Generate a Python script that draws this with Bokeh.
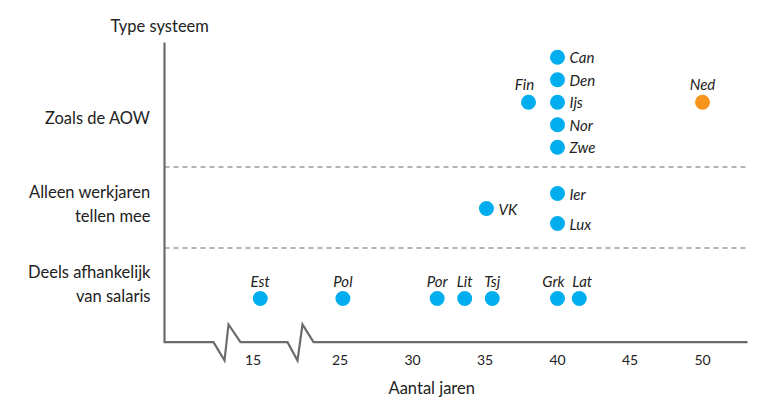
from bokeh.plotting import figure
from bokeh.models import Range1d, FixedTicker, Title, ColumnDataSource
from bokeh.core.properties import value
from bokeh.embed import file_html
from bokeh.resources import INLINE

# ---------------- data ----------------
countries = ["Can", "Den", "Ijs", "Nor", "Zwe", "Fin", "Ned",
             "Ier", "Lux", "VK",
             "Est", "Pol", "Por", "Lit", "Tsj", "Grk", "Lat"]
years = [40, 40, 40, 40, 40, 38, 50,
         40, 40, 35.1,
         15.5, 25.2, 31.7, 33.6, 35.5, 40, 41.5]
system = [0, 0, 0, 0, 0, 0, 0,
          1, 1, 1,
          2, 2, 2, 2, 2, 2, 2]
categories = ["Zoals de AOW", "Alleen werkjaren\ntellen mee", "Deels afhankelijk\nvan salaris"]
highlight = ["Ned"]
x_ticks = [15, 25, 30, 35, 40, 45, 50]

# ---------------- layout / style ----------------
FONT = "Lato"
TXT = "#222222"
BLUE = "#00AEEF"
ORANGE = "#F7941D"
AXIS_C = "#6b6b6b"

PX_PER_YEAR = 14.5
REF_YEAR, REF_PX = 30, 412          # page pixel of year 30
BREAK_AT, BREAK_SHIFT = 20, 4       # values below 20 are shifted right on the broken axis

def to_axis(v):
    return v + BREAK_SHIFT if v < BREAK_AT else v

def px_to_axis(px):
    return REF_YEAR + (px - REF_PX) / PX_PER_YEAR

FRAME_L, FRAME_R, FRAME_T, FRAME_B = 158, 752, 38, 363
GROUP_CENTER = [101.7, 208, 298]
GROUP_STEP = [22.5, 30, 0]
CAT_LABEL_Y = [117, 203, 283]
DIVIDERS = [166.5, 247.5]
AXIS_Y = 341.7
AXIS_X0, AXIS_X1 = px_to_axis(164), px_to_axis(747)
ZIG_LO, ZIG_HI = 360, 324
ZIGS = [(213, 224, 228, 240), (287, 297, 302, 313)]
LABEL_NUDGE = {"Fin": -4, "Grk": -4, "Lat": 3}   # horizontal px nudges of labels above dots

# stacked y positions within each system group
xpos = [to_axis(v) for v in years]
ypos = []
for i, (v, g) in enumerate(zip(years, system)):
    same = [j for j in range(len(years)) if years[j] == v and system[j] == g]
    k = same.index(i)
    n = len(same)
    ypos.append(GROUP_CENTER[g] + (k - (n - 1) / 2) * GROUP_STEP[g])
colors = [ORANGE if c in highlight else BLUE for c in countries]
above = [(g == 2) or (c in ("Fin", "Ned")) for c, g in zip(countries, system)]

p = figure(frame_width=FRAME_R - FRAME_L, frame_height=FRAME_B - FRAME_T,
           min_border_left=FRAME_L, min_border_right=8,
           min_border_top=FRAME_T, min_border_bottom=398 - FRAME_B,
           x_range=Range1d(px_to_axis(FRAME_L), px_to_axis(FRAME_R)),
           y_range=Range1d(FRAME_B, FRAME_T),
           output_backend="svg", toolbar_location=None)
p.grid.visible = False
p.outline_line_color = None
p.background_fill_color = "white"
p.border_fill_color = "white"

# x axis (broken)
xa = p.xaxis[0]
xa.ticker = FixedTicker(ticks=[to_axis(v) for v in x_ticks])
xa.major_label_overrides = {to_axis(v): str(v) for v in x_ticks}
xa.axis_line_color = None
xa.major_tick_line_color = None
xa.minor_tick_line_color = None
xa.major_tick_out = 0
xa.major_tick_in = 0
xa.major_label_standoff = -9
xa.major_label_text_font = FONT
xa.major_label_text_font_size = "14px"
xa.major_label_text_color = TXT

# y axis (categories)
ya = p.yaxis[0]
ya.ticker = FixedTicker(ticks=CAT_LABEL_Y)
ya.major_label_overrides = {y: c for y, c in zip(CAT_LABEL_Y, categories)}
ya.axis_line_color = None
ya.major_tick_line_color = None
ya.minor_tick_line_color = None
ya.major_tick_out = 0
ya.major_tick_in = 0
ya.major_label_standoff = 8
ya.major_label_text_font = FONT
ya.major_label_text_font_size = "16.5px"
ya.major_label_text_color = TXT
ya.major_label_text_align = "right"

# dashed dividers
p.segment(x0=[AXIS_X0] * len(DIVIDERS), x1=[AXIS_X1] * len(DIVIDERS),
          y0=DIVIDERS, y1=DIVIDERS, line_color="#9a9a9a", line_width=1.3,
          line_dash="5 4")

# axis lines with breaks
lx = [AXIS_X0, AXIS_X0]
ly = [FRAME_T + 4, AXIS_Y]
for a, b, c, d in ZIGS:
    lx += [px_to_axis(a), px_to_axis(b), px_to_axis(c), px_to_axis(d)]
    ly += [AXIS_Y, ZIG_LO, ZIG_HI, AXIS_Y]
lx.append(AXIS_X1)
ly.append(AXIS_Y)
p.line(lx, ly, line_color=AXIS_C, line_width=2.2, line_join="miter")

# points
src = ColumnDataSource(dict(x=xpos, y=ypos, c=colors, name=countries))
p.scatter("x", "y", source=src, size=15, fill_color="c", line_color=None)

# labels
r_idx = [i for i in range(len(countries)) if not above[i]]
a_idx = [i for i in range(len(countries)) if above[i]]
p.text(x=[xpos[i] for i in r_idx], y=[ypos[i] for i in r_idx],
       text=[countries[i] for i in r_idx], x_offset=12,
       text_align="left", text_baseline="middle",
       text_font=value(FONT), text_font_style="italic",
       text_font_size="15px", text_color=TXT)
p.text(x=[xpos[i] for i in a_idx], y=[ypos[i] for i in a_idx],
       text=[countries[i] for i in a_idx],
       x_offset=[LABEL_NUDGE.get(countries[i], 0) for i in a_idx], y_offset=-18,
       text_align="center", text_baseline="middle",
       text_font=value(FONT), text_font_style="italic",
       text_font_size="15px", text_color=TXT)

p.add_layout(Title(text="Type systeem", align="left", offset=-48, standoff=6,
                   text_font=FONT, text_font_size="16.5px",
                   text_font_style="normal", text_color=TXT), "above")
p.add_layout(Title(text="Aantal jaren", align="left", offset=230, standoff=17,
                   text_font=FONT, text_font_size="16.5px",
                   text_font_style="normal", text_color=TXT), "below")

open("out.html", "w").write(file_html(p, INLINE))
